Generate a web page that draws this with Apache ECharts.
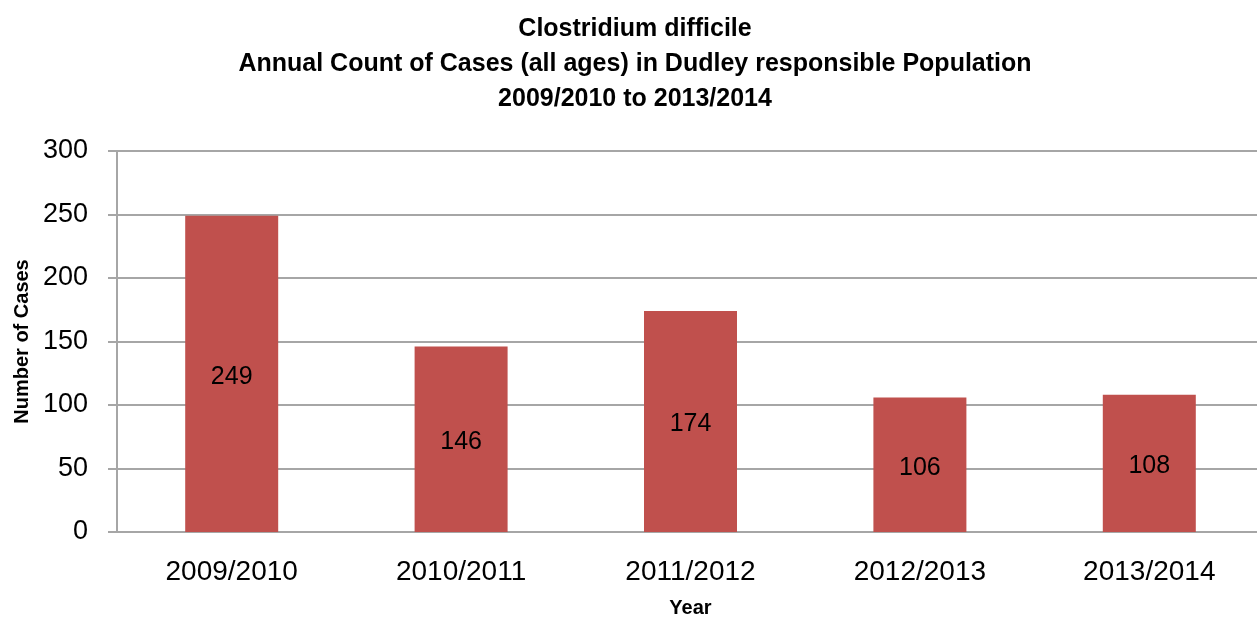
<!DOCTYPE html>
<html>
<head>
<meta charset="utf-8">
<script src="https://cdn.jsdelivr.net/npm/echarts@6/dist/echarts.min.js"></script>
<style>
  html, body { margin: 0; padding: 0; background: #fff; }
  #chart { width: 1257px; height: 619px; }
</style>
</head>
<body>
<div id="chart"></div>
<script>
// data
var years = ['2009/2010', '2010/2011', '2011/2012', '2012/2013', '2013/2014'];
var cases = [249, 146, 174, 106, 108];
var titleLines = [
    'Clostridium difficile',
    'Annual Count of Cases (all ages) in Dudley responsible Population',
    '2009/2010 to 2013/2014'
];

var chart = echarts.init(document.getElementById('chart'));
var font = 'Liberation Sans, Arial, sans-serif';

var option = {
    animation: false,
    title: {
        text: titleLines.join('\n'),
        left: 630,
        textAlign: 'center',
        top: 7,
        textStyle: {
            fontFamily: font,
            fontSize: 25,
            fontWeight: 'bold',
            color: '#000',
            lineHeight: 35
        }
    },
    grid: {
        left: 117,
        right: -7,
        top: 151,
        bottom: 87,
        outerBoundsMode: 'none'
    },
    xAxis: {
        type: 'category',
        data: years,
        name: 'Year',
        nameLocation: 'middle',
        nameGap: 66,
        nameTextStyle: { fontFamily: font, fontSize: 20, fontWeight: 'bold', color: '#000' },
        axisLine: { lineStyle: { color: '#a6a6a6', width: 2 } },
        axisTick: { show: false },
        axisLabel: { fontFamily: font, fontSize: 28, color: '#000', margin: 26 }
    },
    yAxis: {
        type: 'value',
        min: 0,
        max: 300,
        interval: 50,
        name: 'Number of Cases',
        nameLocation: 'middle',
        nameGap: 82,
        nameTextStyle: { fontFamily: font, fontSize: 20, fontWeight: 'bold', color: '#000' },
        axisLine: { show: true, lineStyle: { color: '#a6a6a6', width: 2 } },
        axisTick: { show: true, length: 9, lineStyle: { color: '#a6a6a6', width: 2 } },
        axisLabel: { fontFamily: font, fontSize: 27, color: '#000', margin: 29 },
        splitLine: { lineStyle: { color: '#a6a6a6', width: 2 } }
    },
    series: [{
        type: 'bar',
        data: cases,
        barWidth: 93,
        itemStyle: { color: '#c0504d' },
        label: {
            show: true,
            position: 'inside',
            offset: [0, 3],
            fontFamily: font,
            fontSize: 25,
            color: '#000'
        }
    }]
};
chart.setOption(option);

window.addEventListener('resize', function() {
    chart.resize();
});
</script>
</body>
</html>
